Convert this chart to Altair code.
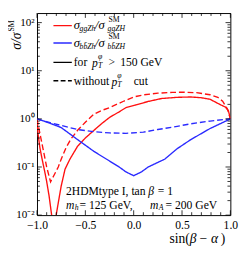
import altair as alt
import pandas as pd
import numpy as np

# ---- data ----
red_solid_x = [-1.0, -0.99, -0.97, -0.947, -0.92, -0.9, -0.875, -0.85, -0.83, -0.81, -0.8, -0.78, -0.75, -0.71, -0.66, -0.58, -0.5, -0.41, -0.33, -0.25, -0.15, -0.08, 0.02, 0.15, 0.29, 0.45, 0.59, 0.7, 0.79, 0.89, 0.95, 0.98, 1.0]
red_solid_y = [1.0, 0.5, 0.25, 0.145, 0.08, 0.05, 0.025, 0.0105, 0.005, 0.006, 0.0105, 0.018, 0.04, 0.09, 0.145, 0.27, 0.4, 0.58, 0.8, 1.07, 1.4, 1.71, 1.94, 2.3, 2.65, 2.8, 2.85, 2.75, 2.55, 2.0, 1.75, 1.47, 1.0]

red_dash_x = [-1.0, -0.97, -0.93, -0.9, -0.86, -0.82, -0.78, -0.75, -0.7, -0.65, -0.58, -0.5, -0.41, -0.33, -0.25, -0.1, 0.0, 0.1, 0.25, 0.4, 0.52, 0.65, 0.79, 0.87, 0.92, 0.97, 1.0]
red_dash_y = [1.0, 0.5, 0.2, 0.1, 0.049, 0.07, 0.1, 0.145, 0.25, 0.38, 0.58, 0.85, 1.26, 1.5, 1.71, 2.35, 2.85, 3.15, 3.42, 3.55, 3.58, 3.5, 3.17, 2.8, 2.33, 1.6, 1.0]

blue_solid_x = [-1.0, -0.9, -0.75, -0.58, -0.41, -0.28, -0.15, -0.08, 0.0, 0.08, 0.15, 0.32, 0.45, 0.59, 0.79, 0.9, 1.0]
blue_solid_y = [1.0, 0.86, 0.66, 0.37, 0.21, 0.145, 0.1, 0.079, 0.066, 0.079, 0.1, 0.145, 0.24, 0.37, 0.63, 0.8, 1.0]

blue_dash_x = [-1.0, -0.9, -0.75, -0.58, -0.41, -0.25, -0.08, 0.1, 0.25, 0.45, 0.59, 0.79, 1.0]
blue_dash_y = [1.0, 0.87, 0.73, 0.6, 0.54, 0.51, 0.5, 0.53, 0.6, 0.7, 0.79, 0.9, 1.0]

series = [
    ("gg_cut", "gg", "solid", red_solid_x, red_solid_y),
    ("gg_nocut", "gg", "dash", red_dash_x, red_dash_y),
    ("bb_cut", "bb", "solid", blue_solid_x, blue_solid_y),
    ("bb_nocut", "bb", "dash", blue_dash_x, blue_dash_y),
]
rows = []
for name, proc, sty, xs, ys in series:
    for xv, yv in zip(xs, ys):
        rows.append({"name": name, "proc": proc, "sty": sty, "x": xv, "y": yv})
df = pd.DataFrame(rows)

X_MAJOR = [-1.0, -0.5, 0.0, 0.5, 1.0]
X_MINOR = [-0.9, -0.8, -0.7, -0.6, -0.4, -0.3, -0.2, -0.1, 0.1, 0.2, 0.3, 0.4, 0.6, 0.7, 0.8, 0.9]
Y_MAJOR = [0.01, 0.1, 1.0, 10.0, 100.0]
Y_MINOR = [m * 10.0 ** k for k in range(-2, 3) for m in range(2, 10) if m * 10.0 ** k < 158]

W, H = 200, 209
FONT = "Liberation Serif"
RED = "#ff1010"
BLUE = "#2a2aff"

XS = alt.Scale(domain=[-1, 1], nice=False, zero=False)
YS = alt.Scale(type="log", domain=[0.01, 158], nice=False)

X_AX = alt.Axis(values=X_MAJOR, format=".1f", labelExpr="replace(datum.label, '-', '\u2212')",
                ticks=False, domain=False, grid=False, title=None, labelPadding=5, labelFlush=False,
                labelFont=FONT, labelFontSize=12, labelColor="black")
Y_AX = alt.Axis(values=Y_MAJOR, ticks=False, domain=False, grid=False, title=None, labelPadding=3, labelFlush=False,
                labelExpr="datum.value > 50 ? '10\u00b2' : datum.value > 5 ? '10\u00b9' : datum.value > 0.5 ? '10\u2070' : datum.value > 0.05 ? '10\u207b\u00b9' : '10\u207b\u00b2'",
                labelFont=FONT, labelFontSize=11.5, labelColor="black")

lines = alt.Chart(df).mark_line(clip=True, strokeWidth=1.4).encode(
    x=alt.X("x:Q", scale=XS, axis=X_AX),
    y=alt.Y("y:Q", scale=YS, axis=Y_AX),
    color=alt.Color("proc:N", scale=alt.Scale(domain=["gg", "bb"], range=[RED, BLUE]), legend=None),
    strokeDash=alt.StrokeDash("sty:N", scale=alt.Scale(domain=["solid", "dash"], range=[[1, 0], [6, 3]]), legend=None),
    detail="name:N",
)

# ticks (inward, mirrored)
xt = pd.DataFrame({"t": X_MAJOR + X_MINOR, "major": [True] * len(X_MAJOR) + [False] * len(X_MINOR)})
yt = pd.DataFrame({"t": Y_MAJOR + Y_MINOR, "major": [True] * len(Y_MAJOR) + [False] * len(Y_MINOR)})

def xticks(major, top):
    L = 5 if major else 3
    d = xt[xt.major == major]
    return alt.Chart(d).mark_rule(color="black", strokeWidth=0.8).encode(
        x=alt.X("t:Q", scale=XS, axis=X_AX),
        y=alt.value(0 if top else H), y2=alt.value(L if top else H - L))

def yticks(major, left):
    L = 5 if major else 3
    d = yt[yt.major == major]
    return alt.Chart(d).mark_rule(color="black", strokeWidth=0.8).encode(
        y=alt.Y("t:Q", scale=YS, axis=Y_AX),
        x=alt.value(0 if left else W), x2=alt.value(L if left else W - L))

tick_layers = [xticks(m, t) for m in (True, False) for t in (True, False)] + \
              [yticks(m, l) for m in (True, False) for l in (True, False)]

# legend samples
def sample(y, color, dash):
    return alt.Chart(pd.DataFrame({"a": [0]})).mark_rule(color=color, strokeWidth=1.4, strokeDash=dash).encode(
        x=alt.value(17), x2=alt.value(36), y=alt.value(y))

legend_lines = [sample(13, RED, [1, 0]), sample(31, BLUE, [1, 0]), sample(51, "black", [1, 0]), sample(70, "black", [5, 2.5])]

def txt(s, x, y, size=12, style="normal", align="left", angle=0):
    return alt.Chart(pd.DataFrame({"s": [s]})).mark_text(
        font=FONT, fontSize=size, fontStyle=style, align=align, baseline="middle",
        color="black", angle=angle).encode(text="s:N", x=alt.value(x), y=alt.value(y))

texts = [
    # entry 1
    txt("\u03c3", 38, 13, 13, "italic"), txt("ggZh", 44, 17, 8, "italic"),
    txt("/\u03c3", 60, 13, 13, "italic"), txt("SM", 74, 7, 8), txt("ggZH", 73, 17, 8, "italic"),
    # entry 2
    txt("\u03c3", 38, 31, 13, "italic"), txt("b\u0062\u0304Zh", 44, 35, 8, "italic"),
    txt("/\u03c3", 60, 31, 13, "italic"), txt("SM", 74, 25, 8), txt("b\u0062\u0304ZH", 73, 35, 8, "italic"),
    # entry 3
    txt("for", 38, 51, 12), txt("p", 57, 52, 12, "italic"), txt("T", 63, 55, 8, "italic"), txt("\u03c6", 63, 46, 8, "italic"),
    txt(">", 74, 51, 12), txt("150 GeV", 86, 51, 12),
    # entry 4
    txt("without", 38, 70, 12), txt("p", 77, 71, 12, "italic"), txt("T", 83, 74, 8, "italic"), txt("\u03c6", 83, 65, 8, "italic"),
    txt("cut", 100, 70, 12),
    # annotation
    txt("2HDMtype I, tan", 30, 184, 12), txt("\u03b2", 115, 184, 12, "italic"), txt("= 1", 125, 184, 12),
    txt("m", 30, 199, 12, "italic"), txt("h", 39, 202, 8, "italic"), txt("= 125 GeV,", 44, 199, 12),
    txt("m", 117, 199, 12, "italic"), txt("A", 126, 202, 8, "italic"), txt("= 200 GeV", 133, 199, 12),
    # x title
    txt("sin(", 137, 234, 14), txt("\u03b2", 158, 234, 14, "italic"), txt("\u2212", 168, 234, 14),
    txt("\u03b1", 180, 234, 14, "italic"), txt(")", 190, 234, 14),
    # y title (rotated)
    txt("\u03c3/\u03c3", -21, 38, 14, "italic", angle=270), txt("SM", -26, 19, 8, angle=270),
]

chart = alt.layer(lines, *tick_layers, *legend_lines, *texts).properties(
    width=W, height=H,
    autosize=alt.AutoSizeParams(type="none"),
    padding={"left": 30, "top": 1, "right": 11, "bottom": 36},
).configure_view(stroke="black", strokeWidth=1)

chart.save("out.html", embed_options={"renderer": "svg", "actions": False})
